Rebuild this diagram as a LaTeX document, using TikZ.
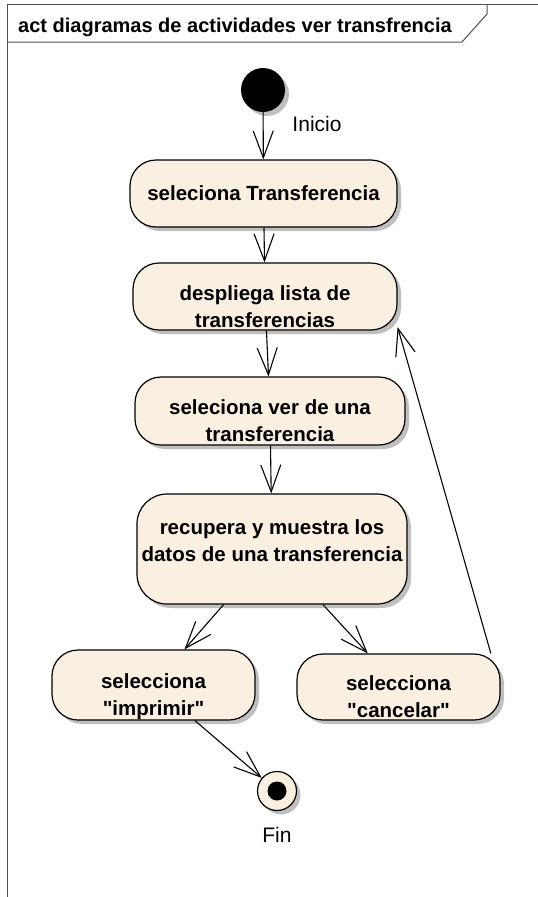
\documentclass[tikz,border=0pt]{standalone}
\usepackage{fontspec}
\setmainfont{Liberation Sans}
\usetikzlibrary{arrows.meta,shadows,positioning}
\definecolor{actfill}{HTML}{FAF0E1}
\definecolor{framegray}{HTML}{505050}

\begin{document}
\begin{tikzpicture}[x=1pt,y=-1pt,
  softshadow/.style={drop shadow={shadow xshift=4pt,shadow yshift=-4pt,fill=black!25,opacity=1}},
  activity/.style={draw, line width=1.2pt, fill=actfill, rounded corners=26pt, align=center,
    inner sep=0pt, font=\fontsize{20.5}{27}\selectfont\bfseries, softshadow},
  twoline/.style={text height=61pt, text depth=0pt},
  flow/.style={line width=1.1pt, -{Straight Barb[length=27pt,width=20pt,line width=1.1pt]}},
  nametext/.style={font=\fontsize{21}{25}\selectfont, inner sep=0pt}]
  \useasboundingbox (0,0) rectangle (538,897);
  % frame and its name tag
  \draw[framegray, line width=1pt] (7,897) -- (7,4) -- (538,4);
  \draw[framegray, line width=1pt] (7,42) -- (462,42) -- (487,14) -- (487,4);
  \node[anchor=base west, inner sep=0pt, font=\fontsize{20}{24}\selectfont\bfseries] (title) at (18,32)
    {act diagramas de actividades ver transfrencia};

  \node[circle, fill=black, minimum size=44pt, inner sep=0pt, softshadow] (init) at (263,90) {};
  \node[nametext] (inicio) at (317,124) {Inicio};

  \node[activity, minimum width=267pt, minimum height=67pt] (selTrans) at (263.5,193.5) {seleciona Transferencia};
  \node[activity, twoline, minimum width=264pt, minimum height=67pt] (lista) at (265,296.5) {despliega lista de\\transferencias};
  \node[activity, twoline, minimum width=270pt, minimum height=68pt] (selVer) at (270,411) {seleciona ver de una\\transferencia};
  \node[activity, rounded corners=30pt, text height=45pt, text depth=19.6pt, minimum width=270pt, minimum height=110pt] (datos) at (272,549)
    {recupera y muestra los\\datos de una transferencia};
  \node[activity, twoline, minimum width=203pt, minimum height=70pt] (imprimir) at (153.5,685) {selecciona\\\textquotedbl imprimir\textquotedbl};
  \node[activity, twoline, minimum width=203pt, minimum height=66pt] (cancelar) at (398.5,687) {selecciona\\\textquotedbl cancelar\textquotedbl};

  \node[circle, draw, line width=1.2pt, fill=actfill, minimum size=39pt, inner sep=0pt, softshadow,
    path picture={\fill[black] (path picture bounding box.center) circle (9.5pt);}] (fin) at (277,791) {};
  \node[nametext] (finLabel) at (277,835) {Fin};

  \draw[flow] (init) -- (selTrans);
  \draw[flow] (selTrans) -- (lista);
  \draw[flow] (lista) -- (selVer);
  \draw[flow] (selVer) -- (datos);
  \draw[flow] (datos) -- (imprimir);
  \draw[flow] (datos) -- (cancelar);
  \draw[flow] (cancelar.20) -- (lista.-13);
  \draw[flow] (imprimir) -- (fin);
\end{tikzpicture}
\end{document}
